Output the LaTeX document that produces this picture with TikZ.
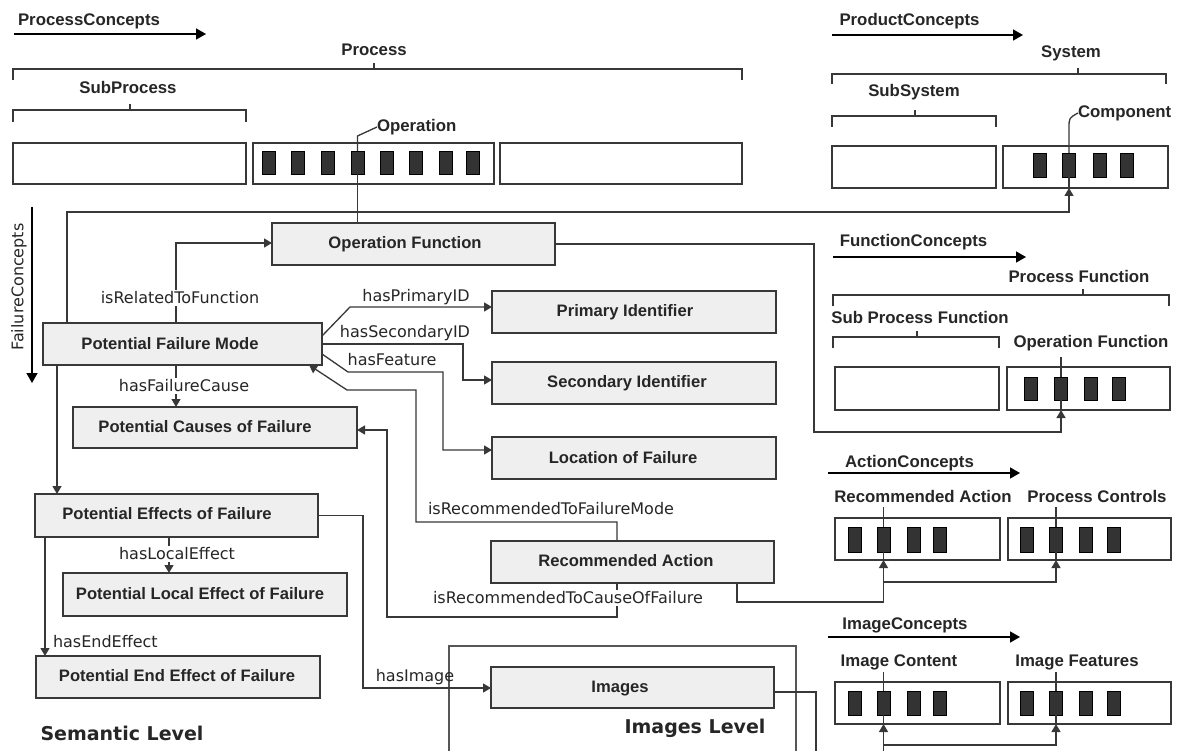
\documentclass[tikz,border=0pt]{standalone}
\usepackage{fontspec}
\setmainfont{DejaVu Sans}
\newfontfamily\lib{Liberation Sans}
\usetikzlibrary{arrows.meta}
\definecolor{ink}{HTML}{262626}
\definecolor{boxfill}{HTML}{EFEFEF}
\definecolor{edge}{HTML}{383838}
\definecolor{blkfill}{HTML}{333333}
\begin{document}
\begin{tikzpicture}[x=1pt,y=-1pt,
  every node/.style={text=ink, inner sep=0pt, outer sep=0pt},
  box/.style={draw=edge, line width=1.6pt, fill=boxfill},
  cbox/.style={draw=edge, line width=1.6pt, fill=white},
  blk/.style={draw=black, fill=blkfill, line width=0.8pt, minimum width=13pt, minimum height=23pt},
  btxt/.style={font=\lib\bfseries\fontsize{16.6}{19}\selectfont, text height=12pt, text depth=2.5pt},
  hdr/.style={font=\lib\bfseries\fontsize{16.8}{19}\selectfont},
  elbl/.style={font=\fontsize{16}{18}\selectfont},
  big/.style={font=\bfseries\fontsize{19}{22}\selectfont},
  conn/.style={draw=edge, line width=1.3pt},
  arr/.style={conn, -{Triangle[length=8pt,width=9pt]}},
  harr/.style={draw=black, line width=1.4pt, -{Triangle[length=10pt,width=11pt]}},
  brk/.style={draw=edge, line width=1.5pt},
  wbg/.style={fill=white, inner xsep=1pt, inner ysep=1.5pt},
  imglev/.style={draw=edge!85, line width=1.3pt},
]
\useasboundingbox (0,0) rectangle (1177,751);
\clip (0,0) rectangle (1177,751);
\fill[white] (0,0) rectangle (1177,751);

% ---------------- Process concepts ----------------
\node[hdr] (pc) at (89,21) {ProcessConcepts};
\coordinate (pca) at (14,34); \coordinate (pcb) at (206,34);
\draw[harr] (pca) -- (pcb);
\node[hdr] (proc) at (374,50) {Process};
\draw[brk] (13,80) -- (13,69) -- (742,69) -- (742,80);
\draw[brk] (374,69) -- (374,63);
\node[hdr] (subproc) at (128,87) {SubProcess};
\draw[brk] (13,122) -- (13,110) -- (246,110) -- (246,122);
\draw[brk] (130,110) -- (130,104);
\node[cbox, minimum width=233pt, minimum height=41pt] (sp1) at (129.5,163.5) {};
\node[cbox, minimum width=241pt, minimum height=41pt] (opbox) at (373.5,163.5) {};
\node[cbox, minimum width=242pt, minimum height=41pt] (sp3) at (621,163.5) {};
\foreach \x [count=\i] in {268.5,298,327.5,357.5,386.5,415.5,445.5,473}
  \node[blk] (op\i) at (\x,162.5) {};
\node[hdr, anchor=west] (oplbl) at (377,127) {Operation};
\draw[conn] (op4.north) -- (357.5,136) -- (oplbl.west);

% ---------------- Product concepts ----------------
\node[hdr] (prc) at (909.5,21) {ProductConcepts};
\coordinate (pra) at (832,35); \coordinate (prb) at (1023,35);
\draw[harr] (pra) -- (prb);
\node[hdr] (sys) at (1071,53) {System};
\draw[brk] (832,84) -- (832,74) -- (1166,74) -- (1166,84);
\draw[brk] (1078,74) -- (1078,68);
\node[hdr] (subsys) at (914,92) {SubSystem};
\draw[brk] (832,127) -- (832,116) -- (996,116) -- (996,127);
\draw[brk] (915,116) -- (915,110);
\node[cbox, minimum width=164pt, minimum height=42pt] (ss1) at (914,167) {};
\node[cbox, minimum width=165pt, minimum height=42pt] (ss2) at (1085.5,167) {};
\foreach \x [count=\i] in {1040,1069,1099.5,1126.5}
  \node[blk, minimum height=24pt] (ss2r\i) at (\x,165) {};
\node[hdr, anchor=west] (cmplbl) at (1078,113) {Component};
\draw[conn] (ss2r2.north) -- (1069,128) .. controls (1069,118) .. (cmplbl.west);

% ---------------- Function concepts ----------------
\node[hdr] (fc) at (913.5,242) {FunctionConcepts};
\coordinate (fca) at (833,257); \coordinate (fcb) at (1026,257);
\draw[harr] (fca) -- (fcb);
\node[hdr] (pfun) at (1079,276) {Process Function};
\draw[brk] (833,306) -- (833,295) -- (1169,295) -- (1169,306);
\draw[brk] (1083,295) -- (1083,289);
\node[hdr] (spfun) at (920,317) {Sub Process Function};
\draw[brk] (833,348) -- (833,337) -- (999,337) -- (999,348);
\draw[brk] (917,337) -- (917,331);
\node[hdr] (ofun) at (1091,343) {Operation Function};
\node[cbox, minimum width=164pt, minimum height=43pt] (pf1) at (917,388.5) {};
\node[cbox, minimum width=163pt, minimum height=43pt] (pf2) at (1088.5,388.5) {};
\foreach \x [count=\i] in {1030.5,1061,1091,1119}
  \node[blk] (pf2r\i) at (\x,388.5) {};
\draw[conn] (pf2r2.north) -- ++(0,-20);

% ---------------- Action concepts ----------------
\node[hdr] (acc) at (909.5,463) {ActionConcepts};
\coordinate (aca) at (828,473); \coordinate (acb) at (1020,473);
\draw[harr] (aca) -- (acb);
\node[hdr] (recl) at (923,496) {Recommended Action};
\node[hdr] (pcl) at (1097,496) {Process Controls};
\node[cbox, minimum width=165pt, minimum height=42pt] (ac1) at (917.5,539) {};
\node[cbox, minimum width=163pt, minimum height=42pt] (ac2) at (1089.5,539) {};
\foreach \x [count=\i] in {855,883.5,913.5,940}
  \node[blk, minimum height=25pt] (ac1r\i) at (\x,539.5) {};
\foreach \x [count=\i] in {1027,1056,1086,1114}
  \node[blk, minimum height=25pt] (ac2r\i) at (\x,539.5) {};
\draw[conn] (ac1r2.north) -- ++(0,-20);
\draw[conn] (ac2r2.north) -- ++(0,-20);

% ---------------- Image concepts ----------------
\node[hdr] (icc) at (905,625) {ImageConcepts};
\coordinate (ica) at (828,637); \coordinate (icb) at (1020,637);
\draw[harr] (ica) -- (icb);
\node[hdr] (icl) at (899,662) {Image Content};
\node[hdr] (ifl) at (1077,662) {Image Features};
\node[cbox, minimum width=165pt, minimum height=42pt] (ic1) at (917.5,703) {};
\node[cbox, minimum width=163pt, minimum height=42pt] (ic2) at (1089.5,703) {};
\foreach \x [count=\i] in {855,883.5,913.5,940}
  \node[blk, minimum height=24pt] (ic1r\i) at (\x,703) {};
\foreach \x [count=\i] in {1027,1056,1086,1114}
  \node[blk, minimum height=24pt] (ic2r\i) at (\x,703) {};
\draw[conn] (ic1r2.north) -- ++(0,-19);
\draw[conn] (ic2r2.north) -- ++(0,-19);

% ---------------- Failure concepts ----------------
\node[rotate=90, font=\fontsize{16}{18}\selectfont] (flc) at (19,287) {FailureConcepts};
\coordinate (fla) at (32,207); \coordinate (flb) at (32,383);
\draw[harr] (fla) -- (flb);

% ---------------- Images level frame ----------------
\node[imglev, minimum width=347pt, minimum height=160pt] (imglevel) at (622.5,726) {};
\node[big] (illbl) at (695,728) {Images Level};
\node[big] (sllbl) at (122,733) {Semantic Level};

% ---------------- Semantic boxes ----------------
\node[box, minimum width=283pt, minimum height=42pt] (opf) at (413.5,244) {};
\node[btxt] (opft) at (405,244) {Operation Function};
\node[box, minimum width=279pt, minimum height=42pt] (pfm) at (182.5,344) {};
\node[btxt] (pfmt) at (170,345) {Potential Failure Mode};
\node[box, minimum width=284pt, minimum height=42pt] (pid) at (634,312) {};
\node[btxt] (pidt) at (625,312) {Primary Identifier};
\node[box, minimum width=284pt, minimum height=42pt] (sid) at (634,383) {};
\node[btxt] (sidt) at (627,383) {Secondary Identifier};
\node[box, minimum width=284pt, minimum height=42pt] (loc) at (634,458) {};
\node[btxt] (loct) at (623,459) {Location of Failure};
\node[box, minimum width=284pt, minimum height=41pt] (pcf) at (215,427.5) {};
\node[btxt] (pcft) at (205,428) {Potential Causes of Failure};
\node[box, minimum width=283pt, minimum height=42pt] (ra) at (632.5,562) {};
\node[btxt] (rat) at (626,562) {Recommended Action};
\node[box, minimum width=283pt, minimum height=43pt] (pef) at (176.5,515.5) {};
\node[btxt] (peft) at (167,515) {Potential Effects of Failure};
\node[box, minimum width=284pt, minimum height=43pt] (plef) at (205,594.5) {};
\node[btxt] (pleft) at (200,595) {Potential Local Effect of Failure};
\node[box, minimum width=284pt, minimum height=42pt] (peef) at (178,677) {};
\node[btxt] (peeft) at (177,677) {Potential End Effect of Failure};
\node[box, minimum width=283pt, minimum height=41pt] (img) at (632.5,687.5) {};
\node[btxt] (imgt) at (620,688) {Images};

% ---------------- Connectors ----------------
% Operation -> Operation Function
\draw[conn] (op4.south) -- (op4.south |- opf.north);
% PFM -> Component
\coordinate (c1) at (67,212);
\draw[arr] (pfm.north -| c1) -- (c1) -- (c1 -| ss2r2) -- (ss2.south -| ss2r2);
\draw[conn] (ss2.south -| ss2r2) -- (ss2r2.south);
% isRelatedToFunction
\coordinate (r1) at (176,243);
\draw[arr] (pfm.north -| r1) -- (r1) -- (r1 -| opf.west);
\node[elbl, wbg] (lrel) at (180,298) {isRelatedToFunction};
% Operation Function -> Operation Function concept
\coordinate (o1) at (814,244); \coordinate (o2) at (814,432);
\draw[arr] (opf.east) -- (o1) -- (o2) -| (pf2.south -| pf2r2);
\draw[conn] (pf2.south -| pf2r2) -- (pf2r2.south);
% hasPrimaryID
\coordinate (p1) at (350,307);
\draw[arr] ([yshift=8pt]pfm.east) -- (p1) -- (p1 -| pid.west);
\node[elbl] (lpid) at (416,297) {hasPrimaryID};
% hasSecondaryID
\coordinate (s1) at (463,344); \coordinate (s2) at (463,380);
\draw[arr] (pfm.east) -- (s1) -- (s2) -- (s2 -| sid.west);
\node[elbl] (lsid) at (405,333) {hasSecondaryID};
% hasFeature
\coordinate (f1) at (348,372); \coordinate (f2) at (443,372); \coordinate (f3) at (443,450);
\draw[arr] ([yshift=-10pt]pfm.east) -- (f1) -- (f2) -- (f3) -- (f3 -| loc.west);
\node[elbl] (lfeat) at (392,360) {hasFeature};
% isRecommendedToFailureMode
\coordinate (m1) at (617,522); \coordinate (m2) at (416,522);
\coordinate (m3) at (416,390); \coordinate (m4) at (347,390);
\draw[arr] (ra.north -| m1) -- (m1) -- (m2) -- (m3) -- (m4) -- ([xshift=-13pt]pfm.south east);
\node[elbl] (lrfm) at (551,509) {isRecommendedToFailureMode};
% isRecommendedToCauseOfFailure
\coordinate (k1) at (617,617); \coordinate (k2) at (387,617); \coordinate (k3) at (387,430);
\draw[arr] (ra.south -| k1) -- (k1) -- (k2) -- (k3) -- (k3 -| pcf.east);
\node[elbl, wbg] (lrcf) at (568,598) {isRecommendedToCauseOfFailure};
% hasFailureCause
\draw[arr] (pfm.south -| r1) -- (pcf.north -| r1);
\node[elbl, wbg] (lfc) at (184,386) {hasFailureCause};
% PFM -> Effects
\draw[arr] ([xshift=14pt]pfm.south west) -- ([xshift=14pt]pfm.south west |- pef.north);
% hasLocalEffect
\draw[arr] ([xshift=134pt]pef.south west) -- ([xshift=134pt]pef.south west |- plef.north);
\node[elbl, wbg] (lloc) at (177,554) {hasLocalEffect};
% hasEndEffect
\draw[arr] ([xshift=10pt]pef.south west) -- ([xshift=10pt]pef.south west |- peef.north);
\node[elbl, anchor=west] (lend) at (53,642) {hasEndEffect};
% hasImage
\coordinate (g1) at (363,515.5); \coordinate (g2) at (363,688);
\draw[arr] (pef.east) -- (g1) -- (g2) -- (g2 -| img.west);
\node[elbl] (limg) at (415,677) {hasImage};
% Recommended Action -> action concepts
\coordinate (a1) at (883.5,602); \coordinate (a2) at (883.5,582);
\draw[arr] ([xshift=-37pt]ra.south east) |- (a1) -- (ac1.south -| ac1r2);
\draw[arr] (a2) -| (ac2.south -| ac2r2);
\draw[conn] (ac1.south -| ac1r2) -- (ac1r2.south);
\draw[conn] (ac2.south -| ac2r2) -- (ac2r2.south);
% Images -> image concepts
\coordinate (i1) at (816,692); \coordinate (i2) at (816,790); \coordinate (i3) at (883.5,745);
\draw[arr] (img.east |- i1) -- (i1) -- (i2) -| (ic1.south -| ic1r2);
\draw[arr] (i3) -| (ic2.south -| ic2r2);
\draw[conn] (ic1.south -| ic1r2) -- (ic1r2.south);
\draw[conn] (ic2.south -| ic2r2) -- (ic2r2.south);
\end{tikzpicture}
\end{document}
